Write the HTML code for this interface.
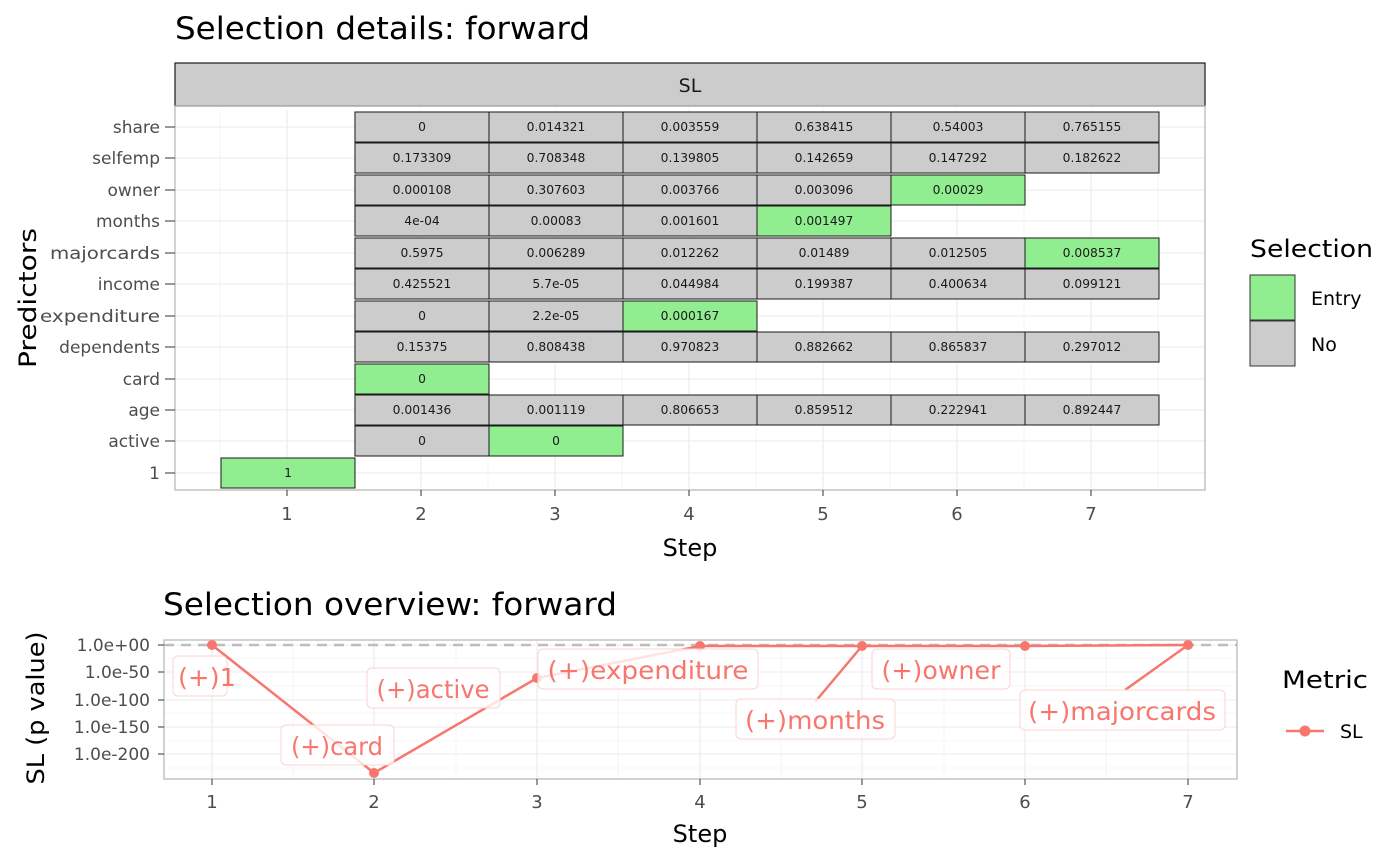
<!DOCTYPE html>
<html><head><meta charset="utf-8"><style>
html,body{margin:0;padding:0;background:#fff}
svg{display:block;font-family:"DejaVu Sans","Liberation Sans",sans-serif}
.g{stroke:#ebebeb;stroke-width:1.1}
.m{stroke:#f4f4f4;stroke-width:0.8}
.t rect{stroke:#1a1a1a;stroke-width:1}
.t text{font-size:12.3px;text-anchor:middle;fill:#1a1a1a}
.n{fill:#cccccc}.e{fill:#90ee90}
.yl{font-size:17px;fill:#4d4d4d;text-anchor:end}
.xl{font-size:18px;fill:#4d4d4d;text-anchor:middle}
.lb rect{fill:#fff;fill-opacity:.8;stroke:#fbd3d0;stroke-width:1}
.lb text{font-size:25px;fill:#F8766D;text-anchor:middle}
</style></head><body>
<svg width="1400" height="865" viewBox="0 0 1400 865">
<text x="175" y="39" font-size="31" fill="#000" textLength="415" lengthAdjust="spacingAndGlyphs">Selection details: forward</text>
<rect x="175" y="63" width="1030" height="43" fill="#cccccc" stroke="#1a1a1a" stroke-width="1.2"/>
<text x="690" y="92" font-size="19" text-anchor="middle" fill="#1a1a1a">SL</text>
<g class="m">
<line x1="354" y1="110" x2="354" y2="490"/><line x1="488" y1="110" x2="488" y2="490"/><line x1="622" y1="110" x2="622" y2="490"/><line x1="756" y1="110" x2="756" y2="490"/><line x1="890" y1="110" x2="890" y2="490"/><line x1="1024" y1="110" x2="1024" y2="490"/><line x1="1158" y1="110" x2="1158" y2="490"/><line x1="220" y1="110" x2="220" y2="490"/>
</g>
<g class="g">
<line x1="287" y1="110" x2="287" y2="490"/><line x1="421" y1="110" x2="421" y2="490"/><line x1="555" y1="110" x2="555" y2="490"/><line x1="689" y1="110" x2="689" y2="490"/><line x1="823" y1="110" x2="823" y2="490"/><line x1="957" y1="110" x2="957" y2="490"/><line x1="1091" y1="110" x2="1091" y2="490"/>
<line x1="175" y1="127" x2="1205" y2="127"/><line x1="175" y1="158" x2="1205" y2="158"/><line x1="175" y1="190" x2="1205" y2="190"/><line x1="175" y1="221" x2="1205" y2="221"/><line x1="175" y1="253" x2="1205" y2="253"/><line x1="175" y1="284" x2="1205" y2="284"/><line x1="175" y1="316" x2="1205" y2="316"/><line x1="175" y1="347" x2="1205" y2="347"/><line x1="175" y1="379" x2="1205" y2="379"/><line x1="175" y1="410" x2="1205" y2="410"/><line x1="175" y1="441" x2="1205" y2="441"/><line x1="175" y1="473" x2="1205" y2="473"/>
</g>
<g class="t">
<rect class="n" x="355" y="112" width="134" height="30"/><text x="422" y="131">0</text>
<rect class="n" x="489" y="112" width="134" height="30"/><text x="556" y="131">0.014321</text>
<rect class="n" x="623" y="112" width="134" height="30"/><text x="690" y="131">0.003559</text>
<rect class="n" x="757" y="112" width="134" height="30"/><text x="824" y="131">0.638415</text>
<rect class="n" x="891" y="112" width="134" height="30"/><text x="958" y="131">0.54003</text>
<rect class="n" x="1025" y="112" width="134" height="30"/><text x="1092" y="131">0.765155</text>
<rect class="n" x="355" y="143" width="134" height="30"/><text x="422" y="162">0.173309</text>
<rect class="n" x="489" y="143" width="134" height="30"/><text x="556" y="162">0.708348</text>
<rect class="n" x="623" y="143" width="134" height="30"/><text x="690" y="162">0.139805</text>
<rect class="n" x="757" y="143" width="134" height="30"/><text x="824" y="162">0.142659</text>
<rect class="n" x="891" y="143" width="134" height="30"/><text x="958" y="162">0.147292</text>
<rect class="n" x="1025" y="143" width="134" height="30"/><text x="1092" y="162">0.182622</text>
<rect class="n" x="355" y="175" width="134" height="30"/><text x="422" y="194">0.000108</text>
<rect class="n" x="489" y="175" width="134" height="30"/><text x="556" y="194">0.307603</text>
<rect class="n" x="623" y="175" width="134" height="30"/><text x="690" y="194">0.003766</text>
<rect class="n" x="757" y="175" width="134" height="30"/><text x="824" y="194">0.003096</text>
<rect class="e" x="891" y="175" width="134" height="30"/><text x="958" y="194">0.00029</text>
<rect class="n" x="355" y="206" width="134" height="30"/><text x="422" y="225">4e-04</text>
<rect class="n" x="489" y="206" width="134" height="30"/><text x="556" y="225">0.00083</text>
<rect class="n" x="623" y="206" width="134" height="30"/><text x="690" y="225">0.001601</text>
<rect class="e" x="757" y="206" width="134" height="30"/><text x="824" y="225">0.001497</text>
<rect class="n" x="355" y="238" width="134" height="30"/><text x="422" y="257">0.5975</text>
<rect class="n" x="489" y="238" width="134" height="30"/><text x="556" y="257">0.006289</text>
<rect class="n" x="623" y="238" width="134" height="30"/><text x="690" y="257">0.012262</text>
<rect class="n" x="757" y="238" width="134" height="30"/><text x="824" y="257">0.01489</text>
<rect class="n" x="891" y="238" width="134" height="30"/><text x="958" y="257">0.012505</text>
<rect class="e" x="1025" y="238" width="134" height="30"/><text x="1092" y="257">0.008537</text>
<rect class="n" x="355" y="269" width="134" height="30"/><text x="422" y="288">0.425521</text>
<rect class="n" x="489" y="269" width="134" height="30"/><text x="556" y="288">5.7e-05</text>
<rect class="n" x="623" y="269" width="134" height="30"/><text x="690" y="288">0.044984</text>
<rect class="n" x="757" y="269" width="134" height="30"/><text x="824" y="288">0.199387</text>
<rect class="n" x="891" y="269" width="134" height="30"/><text x="958" y="288">0.400634</text>
<rect class="n" x="1025" y="269" width="134" height="30"/><text x="1092" y="288">0.099121</text>
<rect class="n" x="355" y="301" width="134" height="30"/><text x="422" y="320">0</text>
<rect class="n" x="489" y="301" width="134" height="30"/><text x="556" y="320">2.2e-05</text>
<rect class="e" x="623" y="301" width="134" height="30"/><text x="690" y="320">0.000167</text>
<rect class="n" x="355" y="332" width="134" height="30"/><text x="422" y="351">0.15375</text>
<rect class="n" x="489" y="332" width="134" height="30"/><text x="556" y="351">0.808438</text>
<rect class="n" x="623" y="332" width="134" height="30"/><text x="690" y="351">0.970823</text>
<rect class="n" x="757" y="332" width="134" height="30"/><text x="824" y="351">0.882662</text>
<rect class="n" x="891" y="332" width="134" height="30"/><text x="958" y="351">0.865837</text>
<rect class="n" x="1025" y="332" width="134" height="30"/><text x="1092" y="351">0.297012</text>
<rect class="e" x="355" y="364" width="134" height="30"/><text x="422" y="383">0</text>
<rect class="n" x="355" y="395" width="134" height="30"/><text x="422" y="414">0.001436</text>
<rect class="n" x="489" y="395" width="134" height="30"/><text x="556" y="414">0.001119</text>
<rect class="n" x="623" y="395" width="134" height="30"/><text x="690" y="414">0.806653</text>
<rect class="n" x="757" y="395" width="134" height="30"/><text x="824" y="414">0.859512</text>
<rect class="n" x="891" y="395" width="134" height="30"/><text x="958" y="414">0.222941</text>
<rect class="n" x="1025" y="395" width="134" height="30"/><text x="1092" y="414">0.892447</text>
<rect class="n" x="355" y="426" width="134" height="30"/><text x="422" y="445">0</text>
<rect class="e" x="489" y="426" width="134" height="30"/><text x="556" y="445">0</text>
<rect class="e" x="221" y="458" width="134" height="30"/><text x="288" y="477">1</text>
</g>
<rect x="175" y="106" width="1030" height="384" fill="none" stroke="#b3b3b3" stroke-width="1.2"/>
<g class="yl">
<text x="160" y="133">share</text><text x="160" y="164">selfemp</text><text x="160" y="196">owner</text><text x="160" y="227">months</text><text x="160" y="259" textLength="110" lengthAdjust="spacingAndGlyphs">majorcards</text><text x="160" y="290">income</text><text x="160" y="322" textLength="120" lengthAdjust="spacingAndGlyphs">expenditure</text><text x="160" y="353">dependents</text><text x="160" y="385">card</text><text x="160" y="416">age</text><text x="160" y="447">active</text><text x="160" y="479">1</text>
</g>
<g stroke="#333" stroke-width="1">
<line x1="165" y1="127" x2="175" y2="127"/><line x1="165" y1="158" x2="175" y2="158"/><line x1="165" y1="190" x2="175" y2="190"/><line x1="165" y1="221" x2="175" y2="221"/><line x1="165" y1="253" x2="175" y2="253"/><line x1="165" y1="284" x2="175" y2="284"/><line x1="165" y1="316" x2="175" y2="316"/><line x1="165" y1="347" x2="175" y2="347"/><line x1="165" y1="379" x2="175" y2="379"/><line x1="165" y1="410" x2="175" y2="410"/><line x1="165" y1="441" x2="175" y2="441"/><line x1="165" y1="473" x2="175" y2="473"/>
<line x1="287" y1="490" x2="287" y2="496"/><line x1="421" y1="490" x2="421" y2="496"/><line x1="555" y1="490" x2="555" y2="496"/><line x1="689" y1="490" x2="689" y2="496"/><line x1="823" y1="490" x2="823" y2="496"/><line x1="957" y1="490" x2="957" y2="496"/><line x1="1091" y1="490" x2="1091" y2="496"/>
</g>
<g class="xl">
<text x="287" y="520">1</text><text x="421" y="520">2</text><text x="555" y="520">3</text><text x="689" y="520">4</text><text x="823" y="520">5</text><text x="957" y="520">6</text><text x="1091" y="520">7</text>
</g>
<text x="690" y="556" font-size="24" text-anchor="middle" fill="#000">Step</text>
<text transform="translate(36,298) rotate(-90)" font-size="24" text-anchor="middle" fill="#000" textLength="140" lengthAdjust="spacingAndGlyphs">Predictors</text>
<text x="1250" y="257" font-size="24" fill="#000" textLength="123" lengthAdjust="spacingAndGlyphs">Selection</text>
<rect x="1250" y="275" width="45" height="45" fill="#90ee90" stroke="#333"/>
<rect x="1250" y="321" width="45" height="45" fill="#cccccc" stroke="#333"/>
<text x="1311" y="305" font-size="19" fill="#000">Entry</text>
<text x="1311" y="351" font-size="19" fill="#000">No</text>

<text x="163" y="615" font-size="31" fill="#000" textLength="454" lengthAdjust="spacingAndGlyphs">Selection overview: forward</text>
<g class="m">
<line x1="164" y1="658" x2="1237" y2="658"/><line x1="164" y1="686" x2="1237" y2="686"/><line x1="164" y1="713" x2="1237" y2="713"/><line x1="164" y1="741" x2="1237" y2="741"/><line x1="164" y1="768" x2="1237" y2="768"/>
<line x1="293" y1="640" x2="293" y2="779"/><line x1="456" y1="640" x2="456" y2="779"/><line x1="618" y1="640" x2="618" y2="779"/><line x1="781" y1="640" x2="781" y2="779"/><line x1="944" y1="640" x2="944" y2="779"/><line x1="1106" y1="640" x2="1106" y2="779"/>
</g>
<g class="g">
<line x1="164" y1="645" x2="1237" y2="645"/><line x1="164" y1="672" x2="1237" y2="672"/><line x1="164" y1="700" x2="1237" y2="700"/><line x1="164" y1="727" x2="1237" y2="727"/><line x1="164" y1="754" x2="1237" y2="754"/>
<line x1="212" y1="640" x2="212" y2="779"/><line x1="374" y1="640" x2="374" y2="779"/><line x1="537" y1="640" x2="537" y2="779"/><line x1="700" y1="640" x2="700" y2="779"/><line x1="862" y1="640" x2="862" y2="779"/><line x1="1025" y1="640" x2="1025" y2="779"/><line x1="1188" y1="640" x2="1188" y2="779"/>
</g>
<line x1="164" y1="645" x2="1237" y2="645" stroke="#bdbdbd" stroke-width="2.5" stroke-dasharray="10,7"/>
<polyline points="212,645 374,773 537,678 700,646 862,646 1025,646 1188,645" fill="none" stroke="#F8766D" stroke-width="2.5"/>
<line x1="862" y1="646" x2="815" y2="702" stroke="#F8766D" stroke-width="2.5"/>
<line x1="1188" y1="645" x2="1125" y2="690" stroke="#F8766D" stroke-width="2.5"/>
<g fill="#F8766D">
<circle cx="212" cy="645" r="5"/><circle cx="374" cy="773" r="5"/><circle cx="537" cy="678" r="5"/><circle cx="700" cy="646" r="5"/><circle cx="862" cy="646" r="5"/><circle cx="1025" cy="646" r="5"/><circle cx="1188" cy="645" r="5"/>
</g>
<g class="lb">
<rect x="173" y="656" width="54" height="40" rx="5"/><text x="207" y="686" textLength="58" lengthAdjust="spacingAndGlyphs">(+)1</text>
<rect x="281" y="725" width="113" height="40" rx="5"/><text x="337" y="755" textLength="92" lengthAdjust="spacingAndGlyphs">(+)card</text>
<rect x="367" y="668" width="133" height="40" rx="5"/><text x="433" y="698" textLength="113" lengthAdjust="spacingAndGlyphs">(+)active</text>
<rect x="538" y="649" width="220" height="40" rx="5"/><text x="648" y="679" textLength="201" lengthAdjust="spacingAndGlyphs">(+)expenditure</text>
<rect x="736" y="699" width="159" height="40" rx="5"/><text x="815" y="729" textLength="140" lengthAdjust="spacingAndGlyphs">(+)months</text>
<rect x="872" y="649" width="138" height="40" rx="5"/><text x="941" y="679" textLength="119" lengthAdjust="spacingAndGlyphs">(+)owner</text>
<rect x="1020" y="690" width="205" height="40" rx="5"/><text x="1122" y="720" textLength="188" lengthAdjust="spacingAndGlyphs">(+)majorcards</text>
</g>
<rect x="164" y="640" width="1073" height="139" fill="none" stroke="#b3b3b3" stroke-width="1.2"/>
<g stroke="#333" stroke-width="1">
<line x1="158" y1="645" x2="164" y2="645"/><line x1="158" y1="672" x2="164" y2="672"/><line x1="158" y1="700" x2="164" y2="700"/><line x1="158" y1="727" x2="164" y2="727"/><line x1="158" y1="754" x2="164" y2="754"/>
<line x1="212" y1="779" x2="212" y2="785"/><line x1="374" y1="779" x2="374" y2="785"/><line x1="537" y1="779" x2="537" y2="785"/><line x1="700" y1="779" x2="700" y2="785"/><line x1="862" y1="779" x2="862" y2="785"/><line x1="1025" y1="779" x2="1025" y2="785"/><line x1="1188" y1="779" x2="1188" y2="785"/>
</g>
<g class="yl">
<text x="150" y="651">1.0e+00</text><text x="150" y="678">1.0e-50</text><text x="150" y="706">1.0e-100</text><text x="150" y="733">1.0e-150</text><text x="150" y="760">1.0e-200</text>
</g>
<g class="xl">
<text x="212" y="808">1</text><text x="374" y="808">2</text><text x="537" y="808">3</text><text x="700" y="808">4</text><text x="862" y="808">5</text><text x="1025" y="808">6</text><text x="1188" y="808">7</text>
</g>
<text x="700" y="842" font-size="24" text-anchor="middle" fill="#000">Step</text>
<text transform="translate(44,708) rotate(-90)" font-size="24" text-anchor="middle" fill="#000" textLength="153" lengthAdjust="spacingAndGlyphs">SL (p value)</text>
<text x="1282" y="688" font-size="24" fill="#000" textLength="86" lengthAdjust="spacingAndGlyphs">Metric</text>
<line x1="1286" y1="731" x2="1324" y2="731" stroke="#F8766D" stroke-width="2.5"/>
<circle cx="1305" cy="731" r="5.5" fill="#F8766D"/>
<text x="1340" y="738" font-size="19" fill="#000">SL</text>
</svg>
</body></html>
